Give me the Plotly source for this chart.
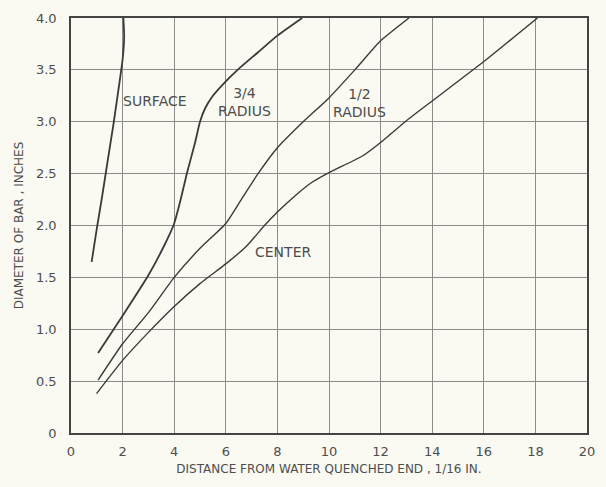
import plotly.graph_objects as go

# ---- data ----
surface_x = [0.80, 1.00, 1.20, 1.42, 1.66, 1.88, 2.00, 2.06, 2.03]
surface_y = [1.65, 1.97, 2.27, 2.62, 3.00, 3.38, 3.60, 3.82, 4.00]

three_quarter_x = [1.05, 2.00, 3.00, 3.60, 4.00, 4.25, 4.50, 4.80, 5.00, 5.20, 5.50, 6.00, 6.50, 7.25, 8.00, 8.96]
three_quarter_y = [0.77, 1.13, 1.52, 1.80, 2.02, 2.25, 2.51, 2.79, 3.00, 3.13, 3.25, 3.39, 3.51, 3.67, 3.83, 4.00]

half_x = [1.05, 2.00, 3.00, 4.00, 5.00, 6.00, 6.60, 7.25, 8.00, 9.00, 10.00, 11.00, 12.00, 13.10]
half_y = [0.51, 0.86, 1.16, 1.50, 1.78, 2.02, 2.25, 2.50, 2.75, 3.00, 3.23, 3.50, 3.78, 4.00]

center_x = [0.99, 2.00, 3.00, 4.00, 5.00, 6.00, 6.80, 7.50, 8.00, 8.70, 9.30, 10.00, 11.30, 12.00, 13.00, 14.00, 16.00, 18.08]
center_y = [0.38, 0.70, 0.97, 1.22, 1.44, 1.63, 1.80, 2.00, 2.13, 2.29, 2.41, 2.51, 2.67, 2.80, 3.01, 3.20, 3.58, 4.00]

x_ticks = [0, 2, 4, 6, 8, 10, 12, 14, 16, 18, 20]
x_tick_labels = ["0", "2", "4", "6", "8", "10", "12", "14", "16", "18", "20"]
y_ticks = [0, 0.5, 1.0, 1.5, 2.0, 2.5, 3.0, 3.5, 4.0]
y_tick_labels = ["0", "0.5", "1.0", "1.5", "2.0", "2.5", "3.0", "3.5", "4.0"]

curve_labels = ["SURFACE", "3/4<br>RADIUS", "1/2<br>RADIUS", "CENTER"]
curve_label_x = [3.26, 6.72, 11.20, 8.20]
curve_label_y = [3.20, 3.19, 3.18, 1.74]

BG = "#fafaf2"
LINE = "#3a3a3a"
TEXT = "#4d4d4d"
FONT = "DejaVu Sans"

fig = go.Figure()
for xs, ys, w in [(surface_x, surface_y, 1.8), (three_quarter_x, three_quarter_y, 1.8),
                  (half_x, half_y, 1.4), (center_x, center_y, 1.4)]:
    fig.add_trace(go.Scatter(x=xs, y=ys, mode="lines",
                             line=dict(color=LINE, width=w, shape="spline", smoothing=0.5),
                             showlegend=False, hoverinfo="skip"))

for t, x, y in zip(curve_labels, curve_label_x, curve_label_y):
    fig.add_annotation(x=x, y=y, text=t, showarrow=False,
                       font=dict(family=FONT, size=14, color=TEXT))

fig.update_layout(
    width=606, height=487,
    margin=dict(l=71, r=11, t=17, b=54),
    paper_bgcolor=BG, plot_bgcolor=BG,
    font=dict(family=FONT, size=13, color=TEXT),
    xaxis=dict(range=[0, 20], tickvals=x_ticks, ticktext=x_tick_labels,
               showgrid=True, gridcolor="#8c8c8c", gridwidth=1,
               zeroline=False, showline=True, mirror=True,
               linecolor="#444444", linewidth=1.6, ticks="", ticklabelstandoff=6,
               title=dict(text="DISTANCE FROM WATER QUENCHED END , 1/16 IN.",
                          font=dict(size=12, color=TEXT), standoff=6)),
    yaxis=dict(range=[0, 4], tickvals=y_ticks, ticktext=y_tick_labels,
               showgrid=True, gridcolor="#8c8c8c", gridwidth=1,
               zeroline=False, showline=True, mirror=True,
               linecolor="#444444", linewidth=1.6, ticks="", ticklabelstandoff=10,
               title=dict(text="DIAMETER OF BAR , INCHES",
                          font=dict(size=12, color=TEXT), standoff=10)),
)

fig.write_html("out.html", config={"displayModeBar": False},
               post_script="document.body.style.margin='0';document.body.style.background='#fafaf2';")
